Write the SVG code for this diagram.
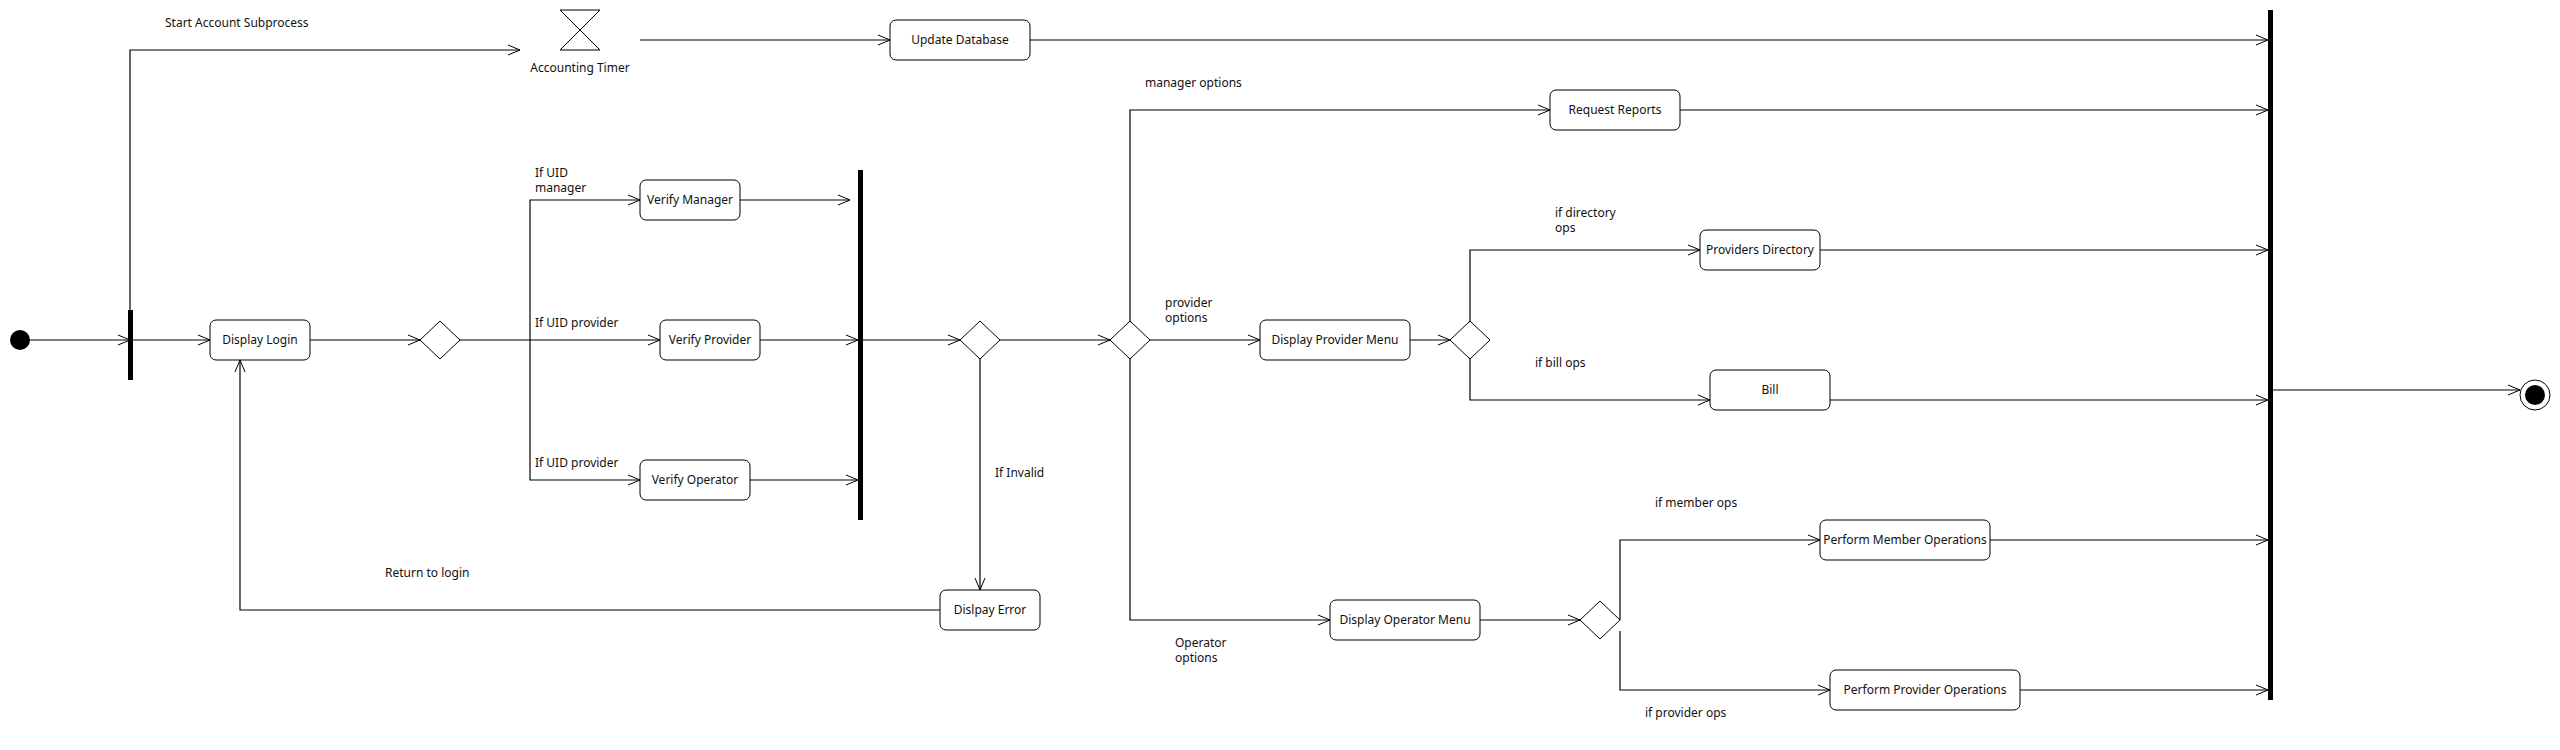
<svg xmlns="http://www.w3.org/2000/svg" width="2560" height="750" viewBox="0 0 2560 750">
<style>
  .node rect.box { fill: #ffffff; stroke: #000000; stroke-width: 1; }
  .dia { fill: #ffffff; stroke: #000000; stroke-width: 1; }
  .bar { fill: #000000; }
  .lbl { font-family: "Noto Sans", "DejaVu Sans", sans-serif; font-size: 12px; fill: #111111; }
  .mid { text-anchor: middle; }
  #connectors path { fill: none; stroke: #000000; stroke-width: 1.2; }
  #connectors path.arr { marker-end: url(#open); }
</style>
<defs>
  <marker id="open" viewBox="0 0 13 12" markerWidth="13" markerHeight="12" refX="12" refY="6" orient="auto" markerUnits="userSpaceOnUse">
    <path d="M0,1 L12,6 L0,11" fill="none" stroke="#000000" stroke-width="1"/>
  </marker>
</defs>
<rect x="0" y="0" width="2560" height="750" fill="#ffffff"/>

<g id="connectors">
  <path class="arr" d="M30,340 H130"/>
  <path class="arr" d="M130,340 H210"/>
  <path class="arr" d="M130,311 V50 H520"/>
  <path class="arr" d="M640,40 H890"/>
  <path class="arr" d="M1030,40 H2268"/>
  <path class="arr" d="M310,340 H420"/>
  <path class="arr" d="M460,340 H660"/>
  <path class="arr" d="M530,340 V200 H640"/>
  <path class="arr" d="M530,340 V480 H640"/>
  <path class="arr" d="M740,200 H850"/>
  <path class="arr" d="M760,340 H858"/>
  <path class="arr" d="M750,480 H858"/>
  <path class="arr" d="M863,340 H960"/>
  <path class="arr" d="M1000,340 H1110"/>
  <path class="arr" d="M980,359 V590"/>
  <path class="arr" d="M940,610 H240 V360"/>
  <path class="arr" d="M1130,321 V110 H1550"/>
  <path class="arr" d="M1150,340 H1260"/>
  <path class="arr" d="M1130,359 V620 H1330"/>
  <path class="arr" d="M1680,110 H2268"/>
  <path class="arr" d="M1410,340 H1450"/>
  <path class="arr" d="M1470,321 V250 H1700"/>
  <path class="arr" d="M1470,359 V400 H1710"/>
  <path class="arr" d="M1820,250 H2268"/>
  <path class="arr" d="M1830,400 H2268"/>
  <path class="arr" d="M1480,620 H1580"/>
  <path class="arr" d="M1620,620 V540 H1820"/>
  <path class="arr" d="M1620,631 V690 H1830"/>
  <path class="arr" d="M1990,540 H2268"/>
  <path class="arr" d="M2020,690 H2268"/>
  <path class="arr" d="M2273,390 H2520"/>
</g>

<g id="initial" class="node"><circle cx="20" cy="340" r="10" fill="#000000"/></g>
<g id="fork" class="node"><rect class="bar" x="128" y="310" width="5" height="70"/></g>
<g id="timer" class="node">
  <path d="M560,10 L600,10 L560,50 L600,50 Z" fill="#ffffff" stroke="#000000" stroke-width="1"/>
  <text class="lbl mid" x="580" y="72">Accounting Timer</text>
</g>
<g id="update-db" class="node"><rect class="box" x="890" y="20" width="140" height="40" rx="6"/><text class="lbl mid" x="960" y="44">Update Database</text></g>
<g id="display-login" class="node"><rect class="box" x="210" y="320" width="100" height="40" rx="6"/><text class="lbl mid" x="260" y="344">Display Login</text></g>
<g id="decision-uid" class="node"><path class="dia" d="M440,321 L460,340 L440,359 L420,340 Z"/></g>
<g id="verify-manager" class="node"><rect class="box" x="640" y="180" width="100" height="40" rx="6"/><text class="lbl mid" x="690" y="204">Verify Manager</text></g>
<g id="verify-provider" class="node"><rect class="box" x="660" y="320" width="100" height="40" rx="6"/><text class="lbl mid" x="710" y="344">Verify Provider</text></g>
<g id="verify-operator" class="node"><rect class="box" x="640" y="460" width="110" height="40" rx="6"/><text class="lbl mid" x="695" y="484">Verify Operator</text></g>
<g id="join-verify" class="node"><rect class="bar" x="858" y="170" width="5" height="350"/></g>
<g id="decision-valid" class="node"><path class="dia" d="M980,321 L1000,340 L980,359 L960,340 Z"/></g>
<g id="display-error" class="node"><rect class="box" x="940" y="590" width="100" height="40" rx="6"/><text class="lbl mid" x="990" y="614">Dislpay Error</text></g>
<g id="decision-role" class="node"><path class="dia" d="M1130,321 L1150,340 L1130,359 L1110,340 Z"/></g>
<g id="request-reports" class="node"><rect class="box" x="1550" y="90" width="130" height="40" rx="6"/><text class="lbl mid" x="1615" y="114">Request Reports</text></g>
<g id="display-provider-menu" class="node"><rect class="box" x="1260" y="320" width="150" height="40" rx="6"/><text class="lbl mid" x="1335" y="344">Display Provider Menu</text></g>
<g id="decision-provider" class="node"><path class="dia" d="M1470,321 L1490,340 L1470,359 L1450,340 Z"/></g>
<g id="providers-directory" class="node"><rect class="box" x="1700" y="230" width="120" height="40" rx="6"/><text class="lbl mid" x="1760" y="254">Providers Directory</text></g>
<g id="bill" class="node"><rect class="box" x="1710" y="370" width="120" height="40" rx="6"/><text class="lbl mid" x="1770" y="394">Bill</text></g>
<g id="display-operator-menu" class="node"><rect class="box" x="1330" y="600" width="150" height="40" rx="6"/><text class="lbl mid" x="1405" y="624">Display Operator Menu</text></g>
<g id="decision-operator" class="node"><path class="dia" d="M1600,601 L1620,620 L1600,639 L1580,620 Z"/></g>
<g id="perform-member" class="node"><rect class="box" x="1820" y="520" width="170" height="40" rx="6"/><text class="lbl mid" x="1905" y="544">Perform Member Operations</text></g>
<g id="perform-provider" class="node"><rect class="box" x="1830" y="670" width="190" height="40" rx="6"/><text class="lbl mid" x="1925" y="694">Perform Provider Operations</text></g>
<g id="join-final" class="node"><rect class="bar" x="2268" y="10" width="5" height="690"/></g>
<g id="final" class="node"><circle cx="2535" cy="395" r="15" fill="#ffffff" stroke="#000000" stroke-width="1"/><circle cx="2535" cy="395" r="10" fill="#000000"/></g>

<g id="labels">
  <text class="lbl" x="165" y="27">Start Account Subprocess</text>
  <text class="lbl" x="535" y="177">If UID</text>
  <text class="lbl" x="535" y="192">manager</text>
  <text class="lbl" x="535" y="327">If UID provider</text>
  <text class="lbl" x="535" y="467">If UID provider</text>
  <text class="lbl" x="385" y="577">Return to login</text>
  <text class="lbl" x="995" y="477">If Invalid</text>
  <text class="lbl" x="1145" y="87">manager options</text>
  <text class="lbl" x="1165" y="307">provider</text>
  <text class="lbl" x="1165" y="322">options</text>
  <text class="lbl" x="1175" y="647">Operator</text>
  <text class="lbl" x="1175" y="662">options</text>
  <text class="lbl" x="1555" y="217">if directory</text>
  <text class="lbl" x="1555" y="232">ops</text>
  <text class="lbl" x="1535" y="367">if bill ops</text>
  <text class="lbl" x="1655" y="507">if member ops</text>
  <text class="lbl" x="1645" y="717">if provider ops</text>
</g>
</svg>
